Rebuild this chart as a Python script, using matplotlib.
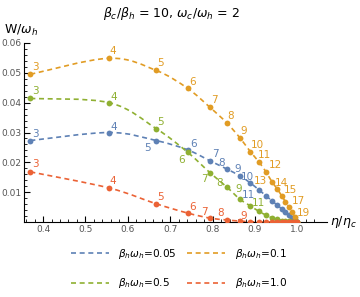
import numpy as np
import matplotlib
matplotlib.use("Agg")
import matplotlib.pyplot as plt
from matplotlib.path import Path
from matplotlib.patches import PathPatch
from matplotlib.lines import Line2D

# level index n and efficiency (eta/eta_c) of each point
n_levels = list(range(3, 21))
eta_ratio = [0.370, 0.556, 0.667, 0.741, 0.794, 0.833, 0.864, 0.889, 0.909,
             0.926, 0.940, 0.952, 0.963, 0.972, 0.980, 0.988, 0.994, 1.000]

# work W/omega_h for each beta_h*omega_h
w_005 = [0.0273, 0.0300, 0.0273, 0.0242, 0.0205, 0.0178, 0.0155, 0.0131, 0.0108,
         0.0088, 0.0071, 0.0057, 0.0044, 0.0033, 0.0024, 0.0014, 0.0007, 0.0]
w_01 = [0.0495, 0.0549, 0.0508, 0.0448, 0.0384, 0.0333, 0.0283, 0.0236, 0.0202,
        0.0168, 0.0135, 0.0112, 0.0088, 0.0068, 0.0050, 0.0032, 0.0017, 0.0]
w_05 = [0.0414, 0.0400, 0.0313, 0.0234, 0.0165, 0.0118, 0.0077, 0.0054, 0.0036,
        0.0023, 0.0014, 0.0009, 0.0005, 0.0003, 0.0002, 0.0001, 0.0, 0.0]
w_10 = [0.0168, 0.0114, 0.0061, 0.0030, 0.0013, 0.0007, 0.0003, 0.0001, 0.0,
        0.0, 0.0, 0.0, 0.0, 0.0, 0.0, 0.0, 0.0, 0.0]

legend_labels = [r"$\beta_h\omega_h$=0.05", r"$\beta_h\omega_h$=0.1",
                 r"$\beta_h\omega_h$=0.5", r"$\beta_h\omega_h$=1.0"]
colors = ["#5E81B5", "#E19C24", "#8FB032", "#EB6235"]

# which n get a number next to the point, and label offset in pixels (dx, dy up)
labeled = [
    {3: (5, 7), 4: (5, 6), 5: (-9, -7), 6: (6, 6), 7: (5, 7), 8: (-5, 6),
     9: (-2, 7), 10: (-3, 6), 11: (-10, -5)},
    {3: (5, 7), 4: (4, 7), 5: (4, 7), 6: (5, 6), 7: (4, 7), 8: (4, 7),
     9: (4, 7), 10: (7, 7), 11: (6, 7), 12: (9, 7), 13: (-11, 1), 14: (4, 6),
     15: (9, 6), 17: (10, 6), 19: (9, 4)},
    {3: (5, 7), 4: (5, 6), 5: (4, 7), 6: (-6, -8), 7: (-6, -6), 8: (-7, 4),
     9: (-1, 10), 11: (0, 8)},
    {3: (5, 8), 4: (4, 7), 5: (4, 7), 6: (5, 6), 7: (-6, 6), 8: (-6, 7),
     9: (4, 5)},
]

plt.rcParams["font.family"] = ["DejaVu Sans"]
plt.rcParams["mathtext.fontset"] = "dejavusans"

fig = plt.figure(figsize=(3.6, 2.97), dpi=100)
ax = fig.add_axes([24 / 360, 1 - 222 / 297, (327 - 24) / 360, (222 - 43) / 297])


def smooth_path(x, y):
    # Catmull-Rom through the points, drawn as cubic bezier segments
    pts = np.column_stack([x, y])
    verts = [pts[0]]
    codes = [Path.MOVETO]
    for i in range(len(pts) - 1):
        p0 = pts[i - 1] if i > 0 else pts[i]
        p1 = pts[i]
        p2 = pts[i + 1]
        p3 = pts[i + 2] if i + 2 < len(pts) else pts[i + 1]
        c1 = p1 + (p2 - p0) / 6
        c2 = p2 - (p3 - p1) / 6
        verts += [c1, c2, p2]
        codes += [Path.CURVE4] * 3
    return Path(verts, codes)


series = [w_005, w_01, w_05, w_10]
for w, c, labs in zip(series, colors, labeled):
    patch = PathPatch(smooth_path(eta_ratio, w), fill=False, edgecolor=c,
                      lw=1.2, linestyle=(0, (3, 2.2)), zorder=2)
    ax.add_patch(patch)
    ax.plot(eta_ratio, w, "o", color=c, ms=4.2, mec="none", zorder=3)
    for n, (dx, dy) in labs.items():
        i = n_levels.index(n)
        ax.annotate(str(n), (eta_ratio[i], w[i]), xytext=(dx * 0.72, dy * 0.72),
                    textcoords="offset points", ha="center", va="center",
                    color=c, fontsize=7.5, zorder=4)

ax.set_xlim(0.355, 1.07)
ax.set_ylim(0, 0.06)
ax.set_xticks([0.4, 0.5, 0.6, 0.7, 0.8, 0.9, 1.0])
ax.set_xticklabels(["0.4", "0.5", "0.6", "0.7", "0.8", "0.9", "1.0"])
ax.set_yticks([0.01, 0.02, 0.03, 0.04, 0.05, 0.06])
ax.set_yticklabels(["0.01", "0.02", "0.03", "0.04", "0.05", "0.06"])
ax.set_xticks(np.arange(0.36, 1.06, 0.02), minor=True)
ax.set_yticks(np.arange(0.002, 0.06, 0.002), minor=True)
ax.tick_params(which="major", direction="in", length=4, width=0.8,
               labelsize=6.5, labelcolor="#555555", pad=2)
ax.tick_params(which="minor", direction="in", length=2, width=0.6)
for s in ["top", "right"]:
    ax.spines[s].set_visible(False)
for s in ["left", "bottom"]:
    ax.spines[s].set_linewidth(0.8)
ax.patch.set_alpha(0)

fig.text(4 / 360, 1 - 30 / 297, r"W/$\omega_h$", fontsize=9, va="center", ha="left")
fig.text(330 / 360, 1 - 222 / 297, r"$\eta/\eta_c$", fontsize=9, va="center", ha="left")
fig.text(171 / 360, 1 - 13 / 297,
         r"$\beta_c/\beta_h$ = 10, $\omega_c/\omega_h$ = 2",
         fontsize=9, ha="center", va="center")

# matplotlib fills legend columns first, so order handles to read row by row
order = [0, 2, 1, 3]
handles = [Line2D([], [], color=colors[k], lw=1.2, linestyle=(0, (3, 2.2)))
           for k in order]
fig.legend(handles, [legend_labels[k] for k in order], ncol=2, loc="center",
           bbox_to_anchor=(179 / 360, 1 - 268.5 / 297), frameon=False,
           fontsize=7.6, handlelength=3.6, handletextpad=0.9,
           columnspacing=1.0, labelspacing=1.5)

fig.savefig("out.png", dpi=100)
